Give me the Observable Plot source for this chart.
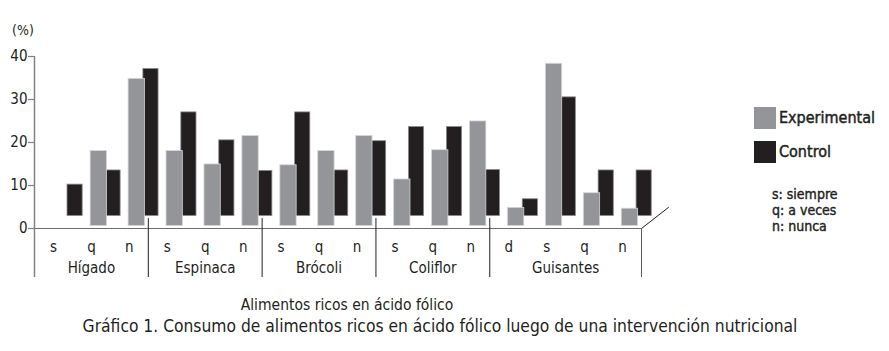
<!DOCTYPE html>
<html><head><meta charset="utf-8">
<script src="https://cdn.jsdelivr.net/npm/d3@7"></script>
<script src="https://cdn.jsdelivr.net/npm/@observablehq/plot@0.6"></script>
<style>
body{margin:0;background:#fff;}
#wrap{position:relative;width:889px;height:351px;font-family:"Liberation Sans Narrow","DejaVu Sans Condensed",sans-serif;color:#231f20;}
.t{position:absolute;white-space:nowrap;line-height:1;}
.sw{position:absolute;width:22px;height:22px;}
</style></head><body><div id="wrap"></div>
<script>
// ---- data ----
const groups = ["Hígado", "Espinaca", "Brócoli", "Coliflor", "Guisantes"];
const groupSizes = [3, 3, 3, 3, 4];
const tickLabels = ["s","q","n","s","q","n","s","q","n","s","q","n","d","s","q","n"];
const experimental = [0, 18.0, 34.8, 18.0, 14.9, 21.5, 14.7, 18.0, 21.5, 11.4, 18.2, 24.9, 4.8, 38.3, 8.2, 4.6];
const control = [10.2, 13.5, 37.1, 27.0, 20.5, 13.4, 27.0, 13.5, 20.3, 23.6, 23.6, 13.6, 6.8, 30.5, 13.5, 13.5];
const yTicks = [0, 10, 20, 30, 40];
const seriesNames = ["Experimental", "Control"];
const notes = ["s: siempre", "q: a veces", "n: nunca"];
const yLabel = "(%)";
const xTitle = "Alimentos ricos en ácido fólico";
const caption = "Gráfico 1. Consumo de alimentos ricos en ácido fólico luego de una intervención nutricional";

const colors = {exp: "#939598", ctl: "#231f20", axis: "#808285"};
const nSlots = tickLabels.length;
const expBase = 0.6, ctlBase = 2.9; // pseudo-3D offsets

const rows = tickLabels.map((t, i) => ({i, t, exp: experimental[i], ctl: control[i]}));
let acc = 0;
const groupRows = groups.map((g, k) => { const r = {g, start: acc, mid: acc + groupSizes[k] / 2, end: acc + groupSizes[k]}; acc += groupSizes[k]; return r; });
const bounds = groupRows.map(d => d.end).slice(0, -1);

const below = -11.4; // bottom of separator lines (in y units)

const chart = Plot.plot({
  width: 889, height: 351,
  marginLeft: 34, marginRight: 248, marginTop: 56, marginBottom: 123,
  style: {fontFamily: '"Liberation Sans Narrow","DejaVu Sans Condensed",sans-serif', color: "#231f20", background: "#fff"},
  x: {type: "linear", domain: [0, nSlots], axis: null},
  y: {domain: [0, 40], axis: null},
  marks: [
    // pseudo-3D floor diagonal
    Plot.line([{x: nSlots, y: 0}, {x: nSlots + 0.71, y: 4.9}], {x: "x", y: "y", stroke: "#231f20", strokeWidth: 1}),
    // control bars (back row)
    Plot.rect(rows.filter(d => d.ctl > 0), {x1: d => d.i + 0.87, x2: d => d.i + 1.27, y1: ctlBase, y2: "ctl", fill: colors.ctl, stroke: "#8a8a8c", strokeWidth: 0.8}),
    // experimental bars (front row)
    Plot.rect(rows.filter(d => d.exp > 0), {x1: d => d.i + 0.48, x2: d => d.i + 0.91, y1: expBase, y2: "exp", fill: colors.exp, stroke: "#d4d5d6", strokeWidth: 0.8}),
    // x floor line
    Plot.ruleY([0], {x1: 0, x2: nSlots, stroke: "#6d6e71", strokeWidth: 1.2}),
    // y axis line
    Plot.ruleX([0], {y1: below, y2: 40, stroke: colors.axis, strokeWidth: 1.5}),
    // group separators
    Plot.ruleX(bounds, {y1: 2.3, y2: below, stroke: "#231f20", strokeWidth: 1}),
    Plot.ruleX([nSlots], {y1: 0, y2: below, stroke: "#58595b", strokeWidth: 1}),
    // y ticks
    Plot.axisY({ticks: yTicks, tickSize: 6, tickPadding: 1, fontSize: 15, stroke: colors.axis, strokeWidth: 1.2, label: null, tickFormat: d => d}),
    // slot letters
    Plot.axisX({ticks: rows.map(d => d.i + 0.5), tickFormat: (d, k) => tickLabels[k], tickSize: 0, tickPadding: 13, fontSize: 15, label: null}),
    // group names
    Plot.axisX({ticks: groupRows.map(d => d.mid), tickFormat: (d, k) => groups[k], tickSize: 0, tickPadding: 34, fontSize: 15, label: null})
  ]
});

const wrap = document.getElementById("wrap");
chart.style.position = "absolute"; chart.style.left = "0"; chart.style.top = "0";
wrap.appendChild(chart);

function addText(txt, css) {
  const d = document.createElement("div");
  d.className = "t"; d.textContent = txt;
  Object.assign(d.style, css);
  wrap.appendChild(d);
  return d;
}
addText(yLabel, {left: "12px", top: "23px", fontSize: "14px"});
// legend
const sw1 = document.createElement("div"); sw1.className = "sw"; Object.assign(sw1.style, {left: "754px", top: "107px", background: colors.exp}); wrap.appendChild(sw1);
const sw2 = document.createElement("div"); sw2.className = "sw"; Object.assign(sw2.style, {left: "754px", top: "141px", background: colors.ctl}); wrap.appendChild(sw2);
addText(seriesNames[0], {left: "779px", top: "110px", fontSize: "16px", webkitTextStroke: "0.45px #231f20"});
addText(seriesNames[1], {left: "779px", top: "144px", fontSize: "16px", webkitTextStroke: "0.45px #231f20"});
notes.forEach((n, k) => addText(n, {left: "772px", top: (187 + k * 16) + "px", fontSize: "14px", webkitTextStroke: "0.4px #231f20"}));
// captions
addText(xTitle, {left: "347px", top: "298px", fontSize: "15.5px", transform: "translateX(-50%)"});
addText(caption, {left: "440px", top: "318px", fontSize: "17.3px", transform: "translateX(-50%)"});
</script>
</body></html>
